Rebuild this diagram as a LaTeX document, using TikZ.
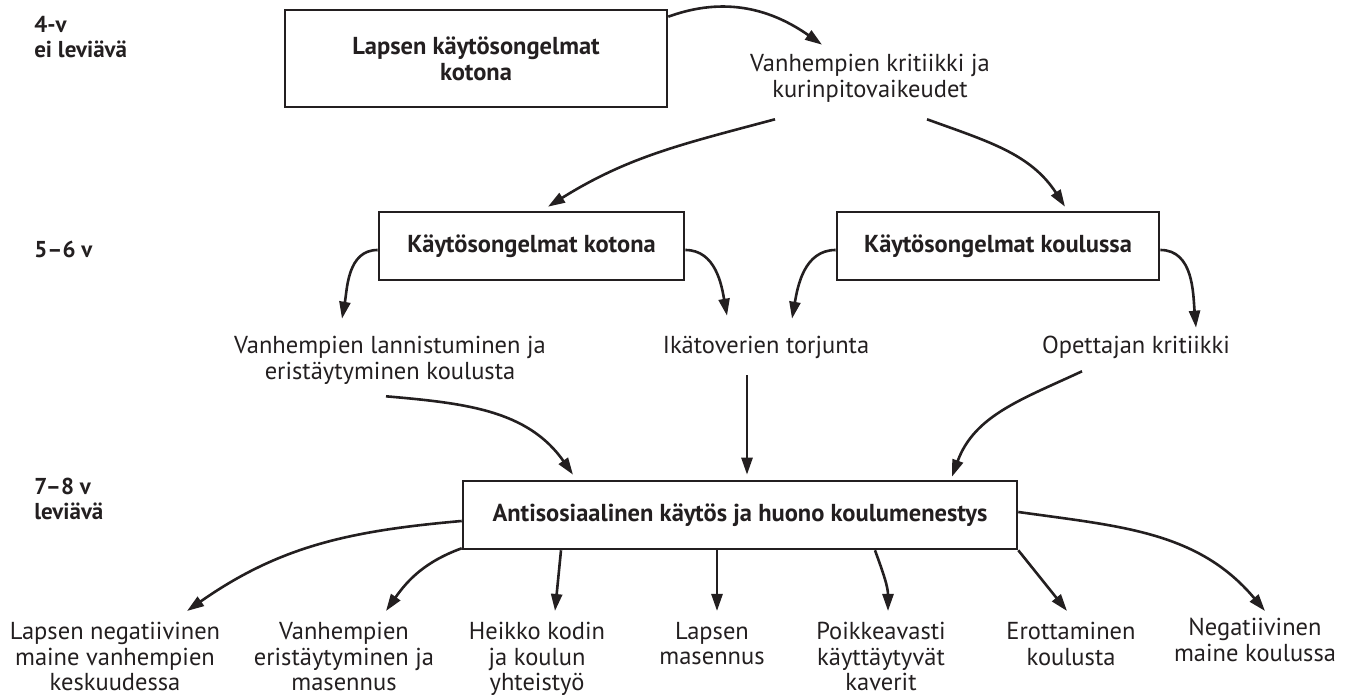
\documentclass[tikz,border=0pt]{standalone}
\usepackage{fontspec}
\setmainfont{PT Sans}
\usetikzlibrary{arrows.meta}
\definecolor{ink}{RGB}{35,31,32}
\begin{document}
\begin{tikzpicture}[x=1pt, y=1pt, line width=2.6pt, color=ink,
    >={Triangle[length=17pt,width=11pt]},
    every node/.style={inner sep=0pt, align=center, font=\fontsize{24.5}{26}\selectfont},
    box/.style={draw, font=\fontsize{24.5}{26}\selectfont\bfseries},
    lab/.style={anchor=north west, align=left, font=\fontsize{23}{25}\selectfont\bfseries},
    outcome/.style={anchor=north, font=\fontsize{24.5}{25.5}\selectfont}]
        \useasboundingbox (0,0) rectangle (1354,698);

        \node[lab] (v4) at (33,683) {4-v\\ei leviävä};
        \node[lab, anchor=base west] (v56) at (33,440) {5–6 v};
        \node[lab] (v78) at (33,221) {7–8 v\\leviävä};

        \node[box, minimum width=382pt, minimum height=97pt] (lapsi) at (476,639.5) {Lapsen käytösongelmat\\kotona};
        \node[minimum width=240pt, minimum height=64pt] (krit) at (870,620) {Vanhempien kritiikki ja\\kurinpitovaikeudet};
        \node[box, minimum width=305pt, minimum height=68pt] (koti) at (531.5,452) {Käytösongelmat kotona};
        \node[box, minimum width=322pt, minimum height=68pt] (koulu) at (998,452) {Käytösongelmat koulussa};
        \node[minimum width=330pt, minimum height=64pt] (lann) at (390,338) {Vanhempien lannistuminen ja\\eristäytyminen koulusta};
        \node[minimum width=210pt, minimum height=30pt] (ika) at (766,351) {Ikätoverien torjunta};
        \node[minimum width=190pt, minimum height=30pt] (opet) at (1136,351) {Opettajan kritiikki};
        \node[box, minimum width=554pt, minimum height=68pt] (anti) at (740,183) {Antisosiaalinen käytös ja huono koulumenestys};

        \node[outcome] (m1) at (115,77) {Lapsen negatiivinen\\maine vanhempien\\keskuudessa};
        \node[outcome] (m2) at (344,77) {Vanhempien\\eristäytyminen ja\\masennus};
        \node[outcome] (m3) at (537,77) {Heikko kodin\\ja koulun\\yhteistyö};
        \node[outcome] (m4) at (712,77) {Lapsen\\masennus};
        \node[outcome] (m5) at (881,77) {Poikkeavasti\\käyttäytyvät\\kaverit};
        \node[outcome] (m6) at (1071,77) {Erottaminen\\koulusta};
        \node[outcome] (m7) at (1255,81) {Negatiivinen\\maine koulussa};

        \draw[->] ([yshift=-8pt]lapsi.north east) to[out=20, in=145] ([xshift=-48pt]krit.north);
        \draw[->] ([xshift=-95pt, yshift=-8pt]krit.south) to[out=195, in=32] ([xshift=16.5pt, yshift=4pt]koti.north);
        \draw[->] ([xshift=57pt, yshift=-8pt]krit.south) to[out=-20, in=123] ([xshift=67pt, yshift=4pt]koulu.north);
        \draw[->] ([yshift=-4pt]koti.west) to[out=180, in=80] ([xshift=-48pt, yshift=8pt]lann.north);
        \draw[->] ([yshift=-4pt]koti.east) to[out=0, in=100] ([xshift=-39pt, yshift=15pt]ika.north);
        \draw[->] ([yshift=-4pt]koulu.west) to[out=180, in=80] ([xshift=26pt, yshift=12pt]ika.north);
        \draw[->] ([yshift=-4pt]koulu.east) to[out=0, in=95] ([xshift=60pt, yshift=3pt]opet.north);
        \draw[->] ([xshift=-4pt, yshift=-3pt]lann.south) to[out=-5, in=125] ([xshift=-167pt, yshift=5pt]anti.north);
        \draw[->] ([xshift=-19pt, yshift=-12pt]ika.south) -- ([xshift=7pt, yshift=5pt]anti.north);
        \draw[->] ([xshift=-54pt, yshift=-8pt]opet.south) to[out=205, in=70] ([xshift=212pt, yshift=3pt]anti.north);

        \draw[->] ([yshift=-6pt]anti.west) to[out=185, in=35] ([xshift=72pt, yshift=10pt]m1.north);
        \draw[->] ([yshift=2pt]anti.south west) to[out=200, in=55] ([xshift=42pt, yshift=10pt]m2.north);
        \draw[->] ([xshift=-179pt]anti.south) -- ([xshift=18pt, yshift=10pt]m3.north);
        \draw[->] ([xshift=-23pt]anti.south) -- ([xshift=5pt, yshift=10pt]m4.north);
        \draw[->] ([xshift=135pt]anti.south) to[out=-70, in=90] ([xshift=7pt, yshift=10pt]m5.north);
        \draw[->] (anti.south east) -- ([xshift=-4pt, yshift=10pt]m6.north);
        \draw[->] ([yshift=3pt]anti.east) to[out=-8, in=130] ([xshift=10pt, yshift=6pt]m7.north);
      \end{tikzpicture}
\end{document}
